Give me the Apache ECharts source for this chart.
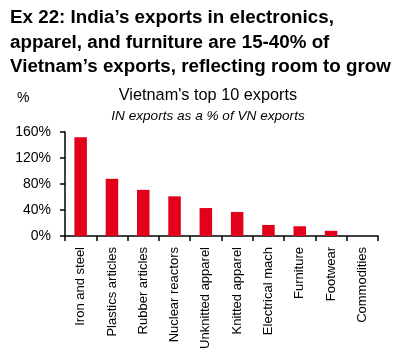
<!DOCTYPE html>
<html><head><meta charset="utf-8">
<script src="https://cdn.jsdelivr.net/npm/echarts@6/dist/echarts.min.js"></script>
<style>html,body{margin:0;padding:0;background:#fff}#c{width:400px;height:359px}</style>
</head><body><div id="c"></div>
<script>
const categories = ["Iron and steel","Plastics articles","Rubber articles","Nuclear reactors","Unknitted apparel","Knitted apparel","Electrical mach","Furniture","Footwear","Commodities"];
const values = [152, 88, 71, 61, 43, 37, 17, 15, 8, 0];
const yTicks = [0, 40, 80, 120, 160];

const chart = echarts.init(document.getElementById('c'), null, {renderer:'canvas'});
const F = '"Liberation Sans", Arial, sans-serif';
chart.setOption({
  animation:false,
  title:[
    {text:"Ex 22: India\u2019s exports in electronics,\napparel, and furniture are 15-40% of\nVietnam\u2019s exports, reflecting room to grow",
     left:5, top:1, textStyle:{fontFamily:F, fontWeight:'bold', fontSize:18.8, lineHeight:24.5, color:'#000'}},
    {text:"%", left:12, top:86, textStyle:{fontFamily:F, fontWeight:'normal', fontSize:14, color:'#000'}},
    {text:"Vietnam's top 10 exports", left:203, textAlign:'center', top:83, textStyle:{fontFamily:F, fontWeight:'normal', fontSize:16.3, color:'#000'}},
    {text:"IN exports as a % of VN exports", left:203, textAlign:'center', top:104, textStyle:{fontFamily:F, fontWeight:'normal', fontStyle:'italic', fontSize:13.6, color:'#000'}}
  ],
  grid:{left:65, right:22, top:132, bottom:123, outerBoundsMode:'none', containLabel:false},
  xAxis:{type:'category', data:categories,
    axisLine:{lineStyle:{color:'#000', width:1.5}},
    axisTick:{show:true, length:5, lineStyle:{color:'#000', width:1.5}},
    axisLabel:{rotate:90, interval:0, fontFamily:F, fontSize:13, color:'#000', margin:11}},
  yAxis:{type:'value', min:0, max:160, interval:40,
    axisLine:{show:true, lineStyle:{color:'#000', width:1.5}},
    axisTick:{show:true, length:5, lineStyle:{color:'#000', width:1.5}},
    splitLine:{show:false},
    axisLabel:{fontFamily:F, fontSize:14, color:'#000', margin:14, formatter:v=>yTicks.includes(v)?v+'%':''}},
  series:[{type:'bar', data:values, barWidth:'40%', itemStyle:{color:'#E2001A'}}]
});
</script></body></html>
